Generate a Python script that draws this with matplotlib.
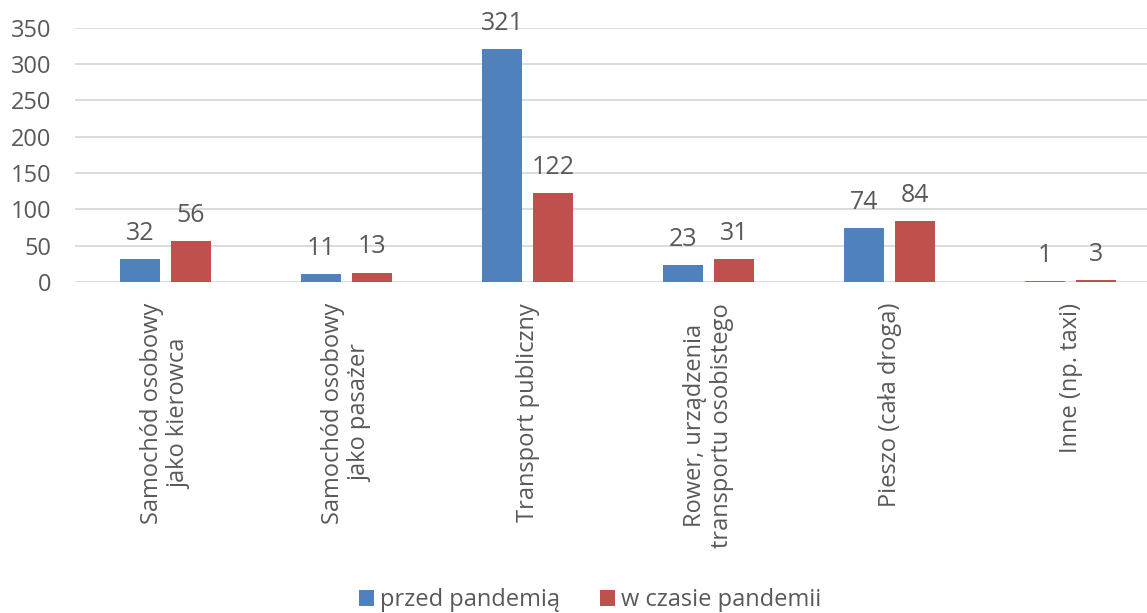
import matplotlib
matplotlib.use("Agg")
import matplotlib.pyplot as plt
import numpy as np

categories = [
    "Samochód osobowy\njako kierowca",
    "Samochód osobowy\njako pasażer",
    "Transport publiczny",
    "Rower, urządzenia\ntransportu osobistego",
    "Pieszo (cała droga)",
    "Inne (np. taxi)",
]
before = [32, 11, 321, 23, 74, 1]
during = [56, 13, 122, 31, 84, 3]
series_names = ["przed pandemią", "w czasie pandemii"]

plt.rcParams["font.family"] = ["Open Sans", "DejaVu Sans"]
txt = "#595959"

fig = plt.figure(figsize=(11.47, 6.13), dpi=100)
# plot area runs slightly past the right edge, as in the source
ax = fig.add_axes([0.0654, 0.540, 0.947, 0.415])

x = np.arange(len(categories))
w = 0.221
gap = 0.061
b1 = ax.bar(x - (w + gap) / 2, before, w, color="#4F81BD", label=series_names[0])
b2 = ax.bar(x + (w + gap) / 2, during, w, color="#C0504D", label=series_names[1])

for bars, vals in ((b1, before), (b2, during)):
    for r, v in zip(bars, vals):
        ax.text(r.get_x() + r.get_width() / 2, v + 18, str(v), ha="center", va="bottom",
                fontsize=18, color=txt)

ax.set_ylim(0, 350)
ax.set_yticks(range(0, 351, 50))
ax.set_xlim(-0.5, len(categories) - 0.5)
ax.yaxis.grid(True, color="#D9D9D9", linewidth=1.3)
ax.set_axisbelow(True)
for s in ax.spines.values():
    s.set_visible(False)
ax.tick_params(axis="both", length=0, labelsize=17, labelcolor=txt)
ax.tick_params(axis="y", pad=17)
ax.set_xticks(x)
ax.set_xticklabels(categories, rotation=90, ha="center", va="top", multialignment="center")
ax.tick_params(axis="x", pad=15)

fig.legend(handles=[b1, b2], labels=series_names, loc="center",
           bbox_to_anchor=(590 / 1147, 1 - 600 / 613), ncol=2, frameon=False,
           fontsize=17, labelcolor=txt, handlelength=0.65, handleheight=0.65,
           handletextpad=0.25, columnspacing=1.7)

fig.savefig("out.png", dpi=100)
